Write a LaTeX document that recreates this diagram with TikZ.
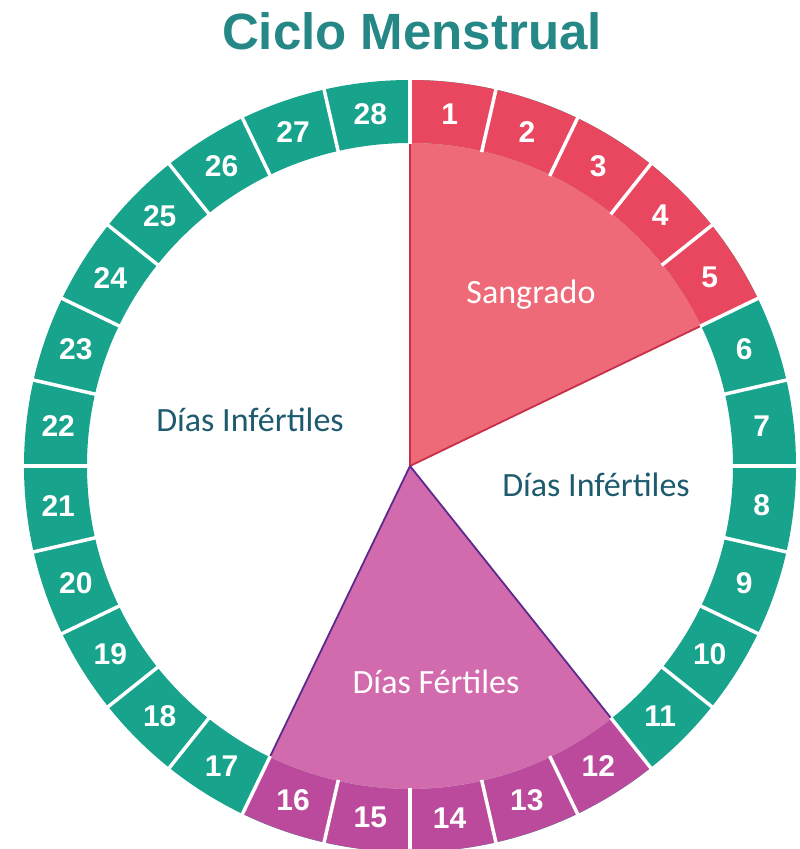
\documentclass[tikz,border=0pt]{standalone}
\usepackage{fontspec}
\setmainfont{Carlito}
\newfontfamily\numfont{Liberation Sans}
\definecolor{ringteal}{HTML}{17A38C}
\definecolor{titleteal}{HTML}{268787}
\definecolor{ringred}{HTML}{E9475F}
\definecolor{wedgered}{HTML}{EE6A78}
\definecolor{edgered}{HTML}{C8304A}
\definecolor{ringmag}{HTML}{BB4A9D}
\definecolor{wedgemag}{HTML}{D26BAE}
\definecolor{edgemag}{HTML}{5B2A8C}
\definecolor{labelblue}{HTML}{1E5B6E}
\tikzset{
  day/.style={text=white, inner sep=0pt, font=\numfont\bfseries\fontsize{30}{30}\selectfont},
  phase/.style={text=labelblue, inner sep=0pt, font=\fontsize{34}{34}\selectfont},
  gap/.style={white, line width=3.5pt}
}
\begin{document}
\begin{tikzpicture}[x=1pt,y=1pt]
\useasboundingbox (0,0) rectangle (800,849);
\node[anchor=base, text=titleteal, font=\numfont\bfseries\fontsize{51}{51}\selectfont] (title) at (412,799) {Ciclo Menstrual};
\begin{scope}[shift={(410,383)}]
\coordinate (c) at (0,0);
% ring
\fill[ringteal, even odd rule] (c) circle[radius=386pt] (c) circle[radius=323pt];
\fill[ringred] (90:386) arc[start angle=90, end angle=25.714, radius=386pt] -- (25.714:323) arc[start angle=25.714, end angle=90, radius=323pt] -- cycle;
\fill[ringmag] (-51.429:386) arc[start angle=-51.429, end angle=-115.714, radius=386pt] -- (-115.714:323) arc[start angle=-115.714, end angle=-51.429, radius=323pt] -- cycle;
% wedges
\fill[wedgered] (c) -- (90:323) arc[start angle=90, end angle=25.714, radius=323pt] -- cycle;
\fill[wedgemag] (c) -- (-51.429:323) arc[start angle=-51.429, end angle=-115.714, radius=323pt] -- cycle;
\coordinate (s1) at (90:323);
\coordinate (s2) at (25.714:323);
\coordinate (f1) at (-51.429:323);
\coordinate (f2) at (-115.714:323);
\draw[edgered, line width=1.8pt](c) -- (s1);
\draw[edgered, line width=1.8pt](c) -- (s2);
\draw[edgemag, line width=1.8pt](c) -- (f1);
\draw[edgemag, line width=1.8pt](c) -- (f2);
\foreach \a in {0,...,27}
  \draw[gap] ({90-\a*12.857143}:322) -- ({90-\a*12.857143}:390);
% days
\node[day] (d1) at (83.571:354){1};
\node[day] (d2) at (70.714:354){2};
\node[day] (d3) at (57.857:354){3};
\node[day] (d4) at (45:354){4};
\node[day] (d5) at (32.143:354){5};
\node[day] (d6) at (19.286:354){6};
\node[day] (d7) at (6.429:354){7};
\node[day] (d8) at (-6.429:354){8};
\node[day] (d9) at (-19.286:354){9};
\node[day] (d10) at (-32.143:354){10};
\node[day] (d11) at (-45:354){11};
\node[day] (d12) at (-57.857:354){12};
\node[day] (d13) at (-70.714:354){13};
\node[day] (d14) at (-83.571:354){14};
\node[day] (d15) at (-96.429:354){15};
\node[day] (d16) at (-109.286:354){16};
\node[day] (d17) at (-122.143:354){17};
\node[day] (d18) at (-135:354){18};
\node[day] (d19) at (-147.857:354){19};
\node[day] (d20) at (-160.714:354){20};
\node[day] (d21) at (-173.571:354){21};
\node[day] (d22) at (173.571:354){22};
\node[day] (d23) at (160.714:354){23};
\node[day] (d24) at (147.857:354){24};
\node[day] (d25) at (135:354){25};
\node[day] (d26) at (122.143:354){26};
\node[day] (d27) at (109.286:354){27};
\node[day] (d28) at (96.429:354){28};
\end{scope}
% phases
\node[phase, text=white] (bleed) at (531,554){Sangrado};
\node[phase] (infleft) at (250,429){Días Infértiles};
\node[phase] (infright) at (596,364){Días Infértiles};
\node[phase, text=white] (fertile) at (436,167){Días Fértiles};
\end{tikzpicture}
\end{document}
